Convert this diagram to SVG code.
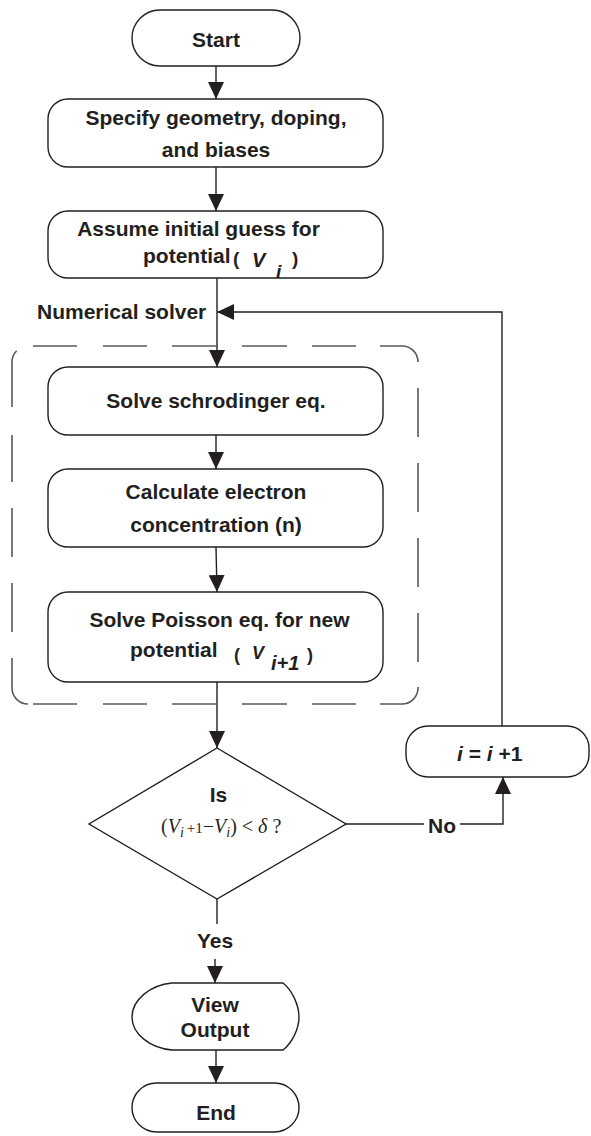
<svg xmlns="http://www.w3.org/2000/svg" width="591" height="1136" viewBox="0 0 591 1136">
<defs>
<style>
.box{fill:#fff;stroke:#231f20;stroke-width:1.4}
.t{font-family:"Liberation Sans",Arial,sans-serif;font-weight:bold;font-size:21px;fill:#231f20}
.c{text-anchor:middle}
.m{font-family:"Liberation Serif","Times New Roman",serif;font-size:20px;fill:#231f20}
.ln{fill:none;stroke:#231f20;stroke-width:1.4}
.dash{fill:none;stroke:#58595b;stroke-width:1.6}
.it{font-style:italic}
</style>
<marker id="ah" markerUnits="userSpaceOnUse" markerWidth="18" markerHeight="16" refX="17" refY="8" orient="auto"><path d="M0,0 L17,8 L0,16 Z" fill="#231f20"/></marker>
</defs>
<rect width="591" height="1136" fill="#fff"/>

<g id="connectors">
<path class="ln" d="M216,66 V99" marker-end="url(#ah)"/>
<path class="ln" d="M216,167 V211" marker-end="url(#ah)"/>
<path class="ln" d="M217,278 V367" marker-end="url(#ah)"/>
<path class="ln" d="M216,435 V469" marker-end="url(#ah)"/>
<path class="ln" d="M216,547 L217,592" marker-end="url(#ah)"/>
<path class="ln" d="M217,682 V748" marker-end="url(#ah)"/>
<path class="ln" d="M346,824 H424 M460,824 H503 V777" marker-end="url(#ah)"/>
<path class="ln" d="M502,726 V312 H217" marker-end="url(#ah)"/>
<path class="ln" d="M217,899 V924"/>
<path class="ln" d="M215,959 V983" marker-end="url(#ah)"/>
<path class="ln" d="M216,1050 V1083" marker-end="url(#ah)"/>
<text class="t" x="428" y="833">No</text>
<text class="t c" x="215" y="948">Yes</text>
</g>

<g id="solver">
<path class="dash" d="M33,346 H77 M103,346 H147 M172,346 H217 M242,346 H287 M312,346 H356 M380,346 H402 A16,16 0 0 1 418,362"/>
<path class="dash" d="M418,388 V437 M418,463 V512 M418,538 V587 M418,613 V662 M418,687 V688 A16,16 0 0 1 402,704 H380"/>
<path class="dash" d="M356,704 H312 M287,704 H242 M217,704 H172 M147,704 H103 M77,704 H33"/>
<path class="dash" d="M28,704 A16,16 0 0 1 12,688 V658 M12,632 V583 M12,557 V508 M12,482 V435 M12,407 V362 A16,16 0 0 1 16.7,350.7"/>
<text class="t" x="37" y="319">Numerical solver</text>
</g>

<g id="start">
<rect class="box" x="132" y="10" width="168" height="56" rx="28"/>
<text class="t c" x="216" y="47">Start</text>
</g>

<g id="specify">
<rect class="box" x="48" y="99" width="335" height="68" rx="20"/>
<text class="t c" x="216" y="125">Specify geometry, doping,</text>
<text class="t c" x="216" y="157">and biases</text>
</g>

<g id="assume">
<rect class="box" x="48" y="211" width="335" height="67" rx="20"/>
<text class="t c" x="198.5" y="236">Assume initial guess for</text>
<text class="t" y="263"><tspan x="143">potential</tspan><tspan x="233" y="265" font-size="19">(</tspan><tspan x="252" y="267" class="it" font-size="20">V</tspan><tspan x="276" y="278" class="it" font-size="19">i</tspan><tspan x="292" y="265" font-size="19">)</tspan></text>
</g>

<g id="schrodinger">
<rect class="box" x="48" y="367" width="335" height="68" rx="20"/>
<text class="t c" x="216" y="408">Solve schrodinger eq.</text>
</g>

<g id="calculate">
<rect class="box" x="48" y="469" width="335" height="78" rx="20"/>
<text class="t c" x="216" y="499">Calculate electron</text>
<text class="t c" x="216" y="532">concentration (n)</text>
</g>

<g id="poisson">
<rect class="box" x="48" y="592" width="335" height="90" rx="20"/>
<text class="t c" x="219.5" y="627">Solve Poisson eq. for new</text>
<text class="t" y="657"><tspan x="130">potential</tspan><tspan x="234" y="661" font-size="18">(</tspan><tspan x="252" y="659" class="it" font-size="18">V</tspan><tspan x="271" y="670" class="it" font-size="20">i+1</tspan><tspan x="307" y="661" font-size="18">)</tspan></text>
</g>

<g id="decision">
<polygon class="box" points="217,748 346,824 217,899 89,824"/>
<text class="t c" x="218.5" y="802">Is</text>
<text class="m" x="161" y="833">(<tspan class="it">V</tspan><tspan class="it" font-size="14" dy="4">i</tspan><tspan font-size="15" dy="-4" dx="3">+1</tspan>−<tspan class="it">V</tspan><tspan class="it" font-size="14" dy="4">i</tspan><tspan dy="-4">) &lt; </tspan><tspan class="it">δ</tspan> ?</text>
</g>

<g id="increment">
<rect class="box" x="406" y="726" width="183" height="51" rx="22"/>
<text class="t" x="457" y="761"><tspan class="it">i</tspan> = <tspan class="it">i</tspan> +1</text>
</g>

<g id="view-output">
<path class="box" d="M172,983 H283 C292,990 299,1005 299,1017 C299,1029 292,1043 283,1050 H172 C150,1048 132,1034 132,1017 C132,1000 150,985 172,983 Z"/>
<text class="t c" x="215" y="1012">View</text>
<text class="t c" x="215" y="1037">Output</text>
</g>

<g id="end">
<rect class="box" x="132" y="1083" width="167" height="49" rx="24.5"/>
<text class="t c" x="216" y="1120">End</text>
</g>
</svg>
